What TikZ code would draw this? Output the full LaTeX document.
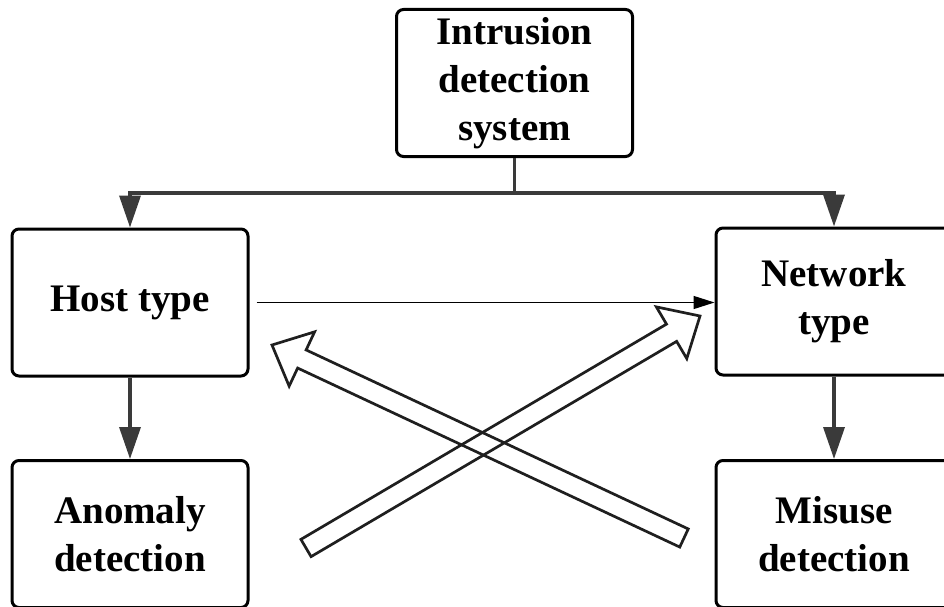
\documentclass[tikz,border=0pt]{standalone}
\usepackage{fontspec}
\setmainfont{Liberation Serif}
\usetikzlibrary{arrows.meta,calc}
\definecolor{conn}{HTML}{3A3A3A}
\tikzset{
  box/.style={draw=black, line width=3pt, rounded corners=7pt, fill=white,
    minimum width=236pt, minimum height=147pt, align=center, inner sep=0pt,
    font=\bfseries\fontsize{39}{48}\selectfont},
  conn/.style={draw=conn, line width=3.5pt},
  connarrow/.style={conn, -{Triangle[length=32pt,width=21pt]}},
  thinarrow/.style={draw=black, line width=1.5pt, -{Triangle[length=21pt,width=13pt]}},
  hollow/.style={draw=black!88, line width=2.7pt, line join=miter}
}
\newcommand\hollowarrow[2]{%
  \coordinate (bs) at ($(#2)!33pt!(#1)$);
  \draw[hollow] ($(#1)!10pt!90:(#2)$) -- ($(bs)!10pt!-90:(#1)$) -- ($(bs)!30pt!-90:(#1)$)
    -- (#2) -- ($(bs)!30pt!90:(#1)$) -- ($(bs)!10pt!90:(#1)$) -- ($(#1)!10pt!-90:(#2)$) -- cycle;
}
\begin{document}
\begin{tikzpicture}[x=1pt,y=-1pt]
\useasboundingbox (0,0) rectangle (944,607);
\clip (0,0) rectangle (944,607);
\fill[white] (0,0) rectangle (944,607);
\node[box] (ids) at (514.5,83) {Intrusion\\detection\\system};
\node[box] (host) at (130,302.5) {Host type};
\node[box] (net) at (834,301.5) {Network\\type};
\node[box] (anom) at (130,534) {Anomaly\\detection};
\node[box] (mis) at (834,534) {Misuse\\detection};
\coordinate (j) at ($(ids.south)+(0,35)$);
\draw[conn] (ids.south) -- (j);
\draw[connarrow] (j) -| (host.north);
\draw[connarrow] (j) -| (net.north);
\draw[connarrow] (host.south) -- (anom.north);
\draw[connarrow] (net.south) -- (mis.north);
\draw[thinarrow, shorten <=7pt] (host.east) -- (host.east -| net.west);
\coordinate (a1) at (306,548);
\coordinate (a2) at (700,316);
\coordinate (b1) at (684,538);
\coordinate (b2) at (272,345);
\hollowarrow{a1}{a2}
\hollowarrow{b1}{b2}
\end{tikzpicture}
\end{document}
